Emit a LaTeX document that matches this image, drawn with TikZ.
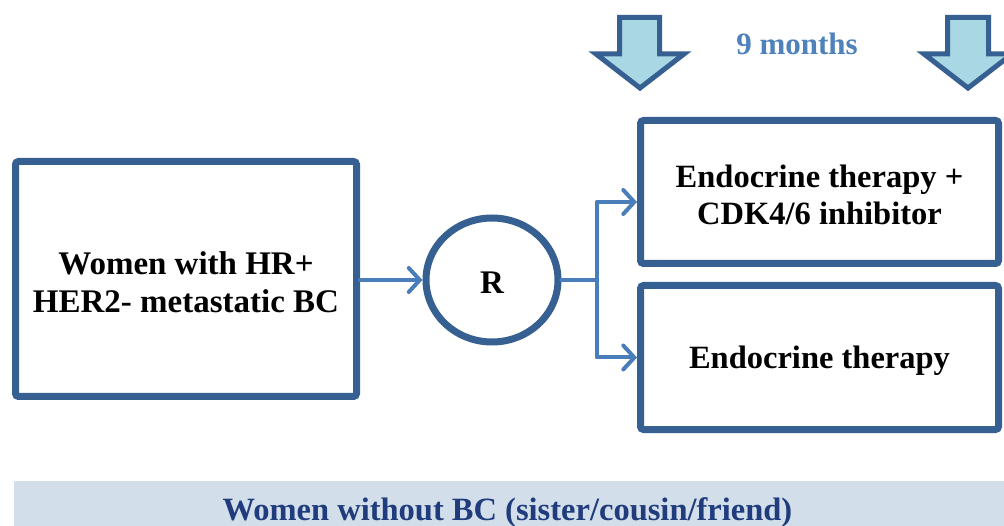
\documentclass[tikz,border=0pt]{standalone}
\usepackage{fontspec}
\setmainfont{Liberation Serif}
\usetikzlibrary{arrows.meta,shapes.geometric}
\definecolor{boxblue}{HTML}{376092}
\definecolor{lineblue}{HTML}{4A7EBB}
\definecolor{monthblue}{HTML}{4F81BD}
\definecolor{arrowfill}{HTML}{A9D8E4}
\definecolor{bandfill}{HTML}{D2DFEB}
\definecolor{bandtext}{HTML}{203C7C}
\tikzset{
  mainbox/.style={draw=boxblue, line width=7pt, rounded corners=3pt, fill=white, inner sep=0pt},
  boxtext/.style={align=center, inner sep=0pt, font=\fontsize{33}{38}\selectfont\bfseries},
  conn/.style={draw=lineblue, line width=4pt, line cap=round, line join=round,
    -{Straight Barb[length=11pt,width=24pt,line cap=round]}},
  blockarrow/.style={draw=boxblue, line width=5pt, fill=arrowfill, line join=miter},
}
\begin{document}
\begin{tikzpicture}[x=1pt,y=-1pt]
\clip (0,0) rectangle (1004,526);
\fill[white] (0,0) rectangle (1004,526);
% block arrows
\draw[blockarrow] (619.5,17.5) -- (659.5,17.5) -- (659.5,54) -- (684,54) -- (640,88) -- (596,54) -- (619.5,54) -- cycle;
\draw[blockarrow] (947.5,17.5) -- (988.5,17.5) -- (988.5,54) -- (1012,54) -- (968,88) -- (924,54) -- (947.5,54) -- cycle;
\node[text=monthblue, font=\fontsize{31}{36}\selectfont\bfseries] (months) at (797,44) {9 months};
% boxes
\node[mainbox, minimum width=341pt, minimum height=235pt] (L) at (186,279) {};
\node[boxtext] (Ltext) at ([yshift=-3pt]L.center) {Women with HR+\\HER2- metastatic BC};
\node[draw=boxblue, line width=7pt, ellipse, minimum width=132pt, minimum height=124pt, inner sep=0pt] (R) at (492,280) {};
\node[boxtext] (Rtext) at ([yshift=-3pt]R.center) {R};
\node[mainbox, minimum width=358pt, minimum height=143pt] (T) at (819.5,192) {};
\node[boxtext, font=\fontsize{32.5}{37}\selectfont\bfseries] (Ttext) at ([yshift=-3pt]T.center) {Endocrine therapy +\\CDK4/6 inhibitor};
\node[mainbox, minimum width=358pt, minimum height=144pt] (B) at (819.5,357.5) {};
\node[boxtext, font=\fontsize{32.5}{37}\selectfont\bfseries] (Btext) at ([yshift=-3pt]B.center) {Endocrine therapy};
% connectors
\draw[conn] (L.east |- R.west) -- (R.west);
\draw[conn] (R.east) -- ++(35,0) coordinate (br) |- ([yshift=-10pt]T.west);
\draw[conn] (br) |- (B.west);
% bottom band
\fill[bandfill] (14,481) rectangle (1004,526);
\node[anchor=base, text=bandtext, font=\fontsize{32.5}{37}\selectfont\bfseries, inner sep=0pt] (band) at (507.5,520) {Women without BC (sister/cousin/friend)};
\end{tikzpicture}
\end{document}
